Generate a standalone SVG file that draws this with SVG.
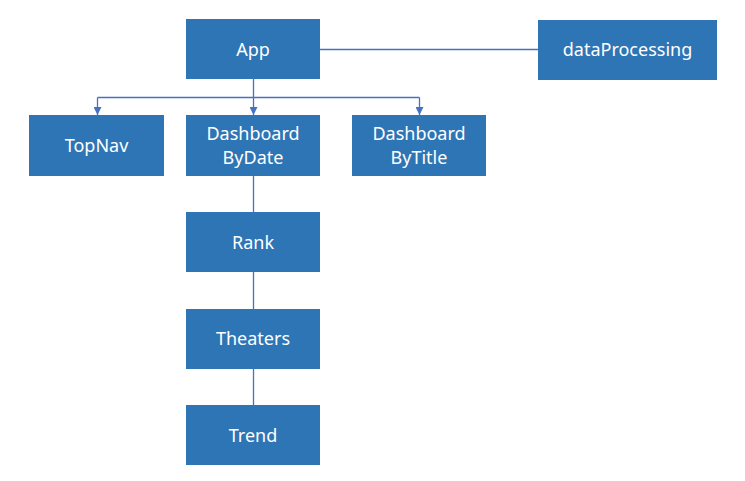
<svg xmlns="http://www.w3.org/2000/svg" width="745" height="481" viewBox="0 0 745 481">
<defs>
<style>
.box{fill:#2E75B6;}
.lbl{fill:#ffffff;font-family:"Noto Sans","Open Sans","DejaVu Sans",sans-serif;font-size:18px;text-anchor:middle;}
.ln{stroke:#4472C4;stroke-width:1.3;fill:none;}
</style>
<marker id="arr" viewBox="0 0 10 10" refX="10" refY="5" markerWidth="8" markerHeight="8" markerUnits="userSpaceOnUse" orient="auto">
<path d="M0,0 L10,5 L0,10 Z" fill="#4472C4"/>
</marker>
</defs>
<rect width="745" height="481" fill="#ffffff"/>
<g id="connectors">
<line class="ln" x1="320" y1="49.5" x2="538" y2="49.5"/>
<line class="ln" x1="253.5" y1="79" x2="253.5" y2="97.5"/>
<line class="ln" x1="97.5" y1="97.5" x2="419.5" y2="97.5"/>
<line class="ln" x1="97.5" y1="97.5" x2="97.5" y2="115" marker-end="url(#arr)"/>
<line class="ln" x1="253.5" y1="97.5" x2="253.5" y2="115" marker-end="url(#arr)"/>
<line class="ln" x1="419.5" y1="97.5" x2="419.5" y2="115" marker-end="url(#arr)"/>
<line class="ln" x1="253.5" y1="176" x2="253.5" y2="212"/>
<line class="ln" x1="253.5" y1="272" x2="253.5" y2="309"/>
<line class="ln" x1="253.5" y1="369" x2="253.5" y2="405"/>
</g>
<g id="app"><rect class="box" x="186" y="19" width="134" height="60"/><text class="lbl" x="253" y="55.5">App</text></g>
<g id="dataProcessing"><rect class="box" x="538" y="20" width="179" height="60"/><text class="lbl" x="627.5" y="56">dataProcessing</text></g>
<g id="topNav"><rect class="box" x="29" y="115" width="135" height="61"/><text class="lbl" x="96.5" y="151.5">TopNav</text></g>
<g id="dashboardByDate"><rect class="box" x="186" y="115" width="134" height="61"/><text class="lbl" x="253" y="140">Dashboard</text><text class="lbl" x="253" y="164">ByDate</text></g>
<g id="dashboardByTitle"><rect class="box" x="352" y="115" width="134" height="61"/><text class="lbl" x="419" y="140">Dashboard</text><text class="lbl" x="419" y="164">ByTitle</text></g>
<g id="rank"><rect class="box" x="186" y="212" width="134" height="60"/><text class="lbl" x="253" y="248.5">Rank</text></g>
<g id="theaters"><rect class="box" x="186" y="309" width="134" height="60"/><text class="lbl" x="253" y="345">Theaters</text></g>
<g id="trend"><rect class="box" x="186" y="405" width="134" height="60"/><text class="lbl" x="253" y="441.5">Trend</text></g>
</svg>
